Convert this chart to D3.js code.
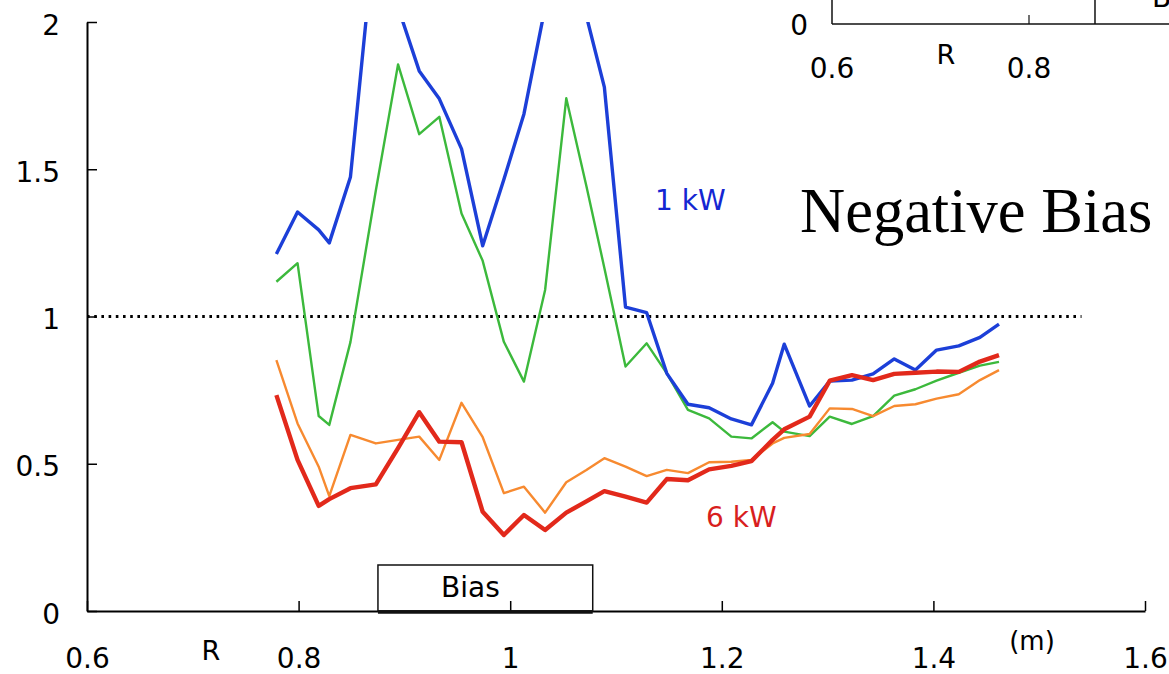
<!DOCTYPE html>
<html>
<head>
<meta charset="utf-8">
<script src="https://cdn.jsdelivr.net/npm/d3@7"></script>
<style>
  html, body { margin: 0; padding: 0; background: #fff; }
  svg { display: block; font-family: "DejaVu Sans", Verdana, sans-serif; }
</style>
</head>
<body>
<div id="chart"></div>
<script>
// radius positions (m), shared by all four profiles
var radius = [0.779, 0.799, 0.819, 0.829, 0.849, 0.873, 0.894, 0.914, 0.933, 0.954,
              0.974, 0.994, 1.013, 1.033, 1.053, 1.072, 1.089, 1.109, 1.129, 1.148,
              1.168, 1.188, 1.209, 1.228, 1.248, 1.259, 1.283, 1.302, 1.323, 1.343,
              1.363, 1.383, 1.403, 1.424, 1.444, 1.462];

// 1 kW (blue)
var blue1kW = [1.212, 1.355, 1.294, 1.250, 1.474, 2.34, 2.05, 1.834, 1.739, 1.569,
               1.240, 1.465, 1.688, 2.05, 2.30, 2.02, 1.779, 1.032, 1.013, 0.807,
               0.702, 0.690, 0.652, 0.632, 0.773, 0.906, 0.696, 0.781, 0.784, 0.805,
               0.856, 0.818, 0.886, 0.900, 0.929, 0.974];
// green
var greenSeries = [1.118, 1.181, 0.662, 0.632, 0.913, 1.428, 1.856, 1.619, 1.678, 1.350,
                   1.189, 0.914, 0.779, 1.090, 1.741, 1.443, 1.165, 0.830, 0.909, 0.807,
                   0.683, 0.654, 0.592, 0.586, 0.641, 0.609, 0.594, 0.660, 0.635, 0.662,
                   0.731, 0.753, 0.782, 0.809, 0.833, 0.846];
// orange
var orangeSeries = [0.852, 0.637, 0.490, 0.390, 0.598, 0.569, 0.581, 0.592, 0.513, 0.707,
                    0.590, 0.400, 0.422, 0.334, 0.437, 0.479, 0.519, 0.490, 0.458, 0.479,
                    0.468, 0.505, 0.507, 0.513, 0.569, 0.588, 0.601, 0.688, 0.686, 0.662,
                    0.696, 0.702, 0.721, 0.736, 0.784, 0.818];
// 6 kW (red)
var red6kW = [0.733, 0.513, 0.357, 0.380, 0.417, 0.430, 0.553, 0.675, 0.575, 0.573,
              0.337, 0.258, 0.326, 0.275, 0.334, 0.372, 0.407, 0.388, 0.368, 0.448,
              0.444, 0.481, 0.493, 0.509, 0.581, 0.617, 0.660, 0.782, 0.801, 0.784,
              0.805, 0.809, 0.813, 0.812, 0.847, 0.869];

var xTicks = [0.6, 0.8, 1.0, 1.2, 1.4, 1.6];
var xTickLabels = ["0.6", "0.8", "1", "1.2", "1.4", "1.6"];
var yTicks = [0, 0.5, 1, 1.5, 2];
var yTickLabels = ["0", "0.5", "1", "1.5", "2"];
var biasRange = [0.875, 1.078];
var refLevel = 1;
var refEnd = 1.54;

// the cut-off corner of another plot (top right)
var insetTicks = [0.6, 0.8];
var insetTickLabels = ["0.6", "0.8"];
var insetBiasStart = 0.867;

var width = 1169, height = 674;

var svg = d3.select("#chart").append("svg")
    .attr("width", width)
    .attr("height", height);

var x = d3.scaleLinear().domain([0.6, 1.6]).range([87, 1145]);
var y = d3.scaleLinear().domain([0, 2]).range([611, 22]);

svg.append("clipPath").attr("id", "plotclip")
  .append("rect")
    .attr("x", x(0.6)).attr("y", y(2))
    .attr("width", x(1.6) - x(0.6)).attr("height", y(0) - y(2) + 5);

// axes
var xAxis = d3.axisBottom(x)
    .tickValues(xTicks)
    .tickFormat(function(d, i) { return xTickLabels[i]; })
    .tickSizeInner(-10).tickSizeOuter(0);

var gx = svg.append("g")
    .attr("transform", "translate(0," + y(0) + ")")
    .call(xAxis);
gx.select(".domain").attr("stroke-width", 2);
gx.selectAll(".tick line").attr("stroke-width", 1.5);
gx.selectAll(".tick text")
    .attr("y", 57).attr("dy", null)
    .attr("font-size", 28)
    .attr("font-family", "DejaVu Sans, sans-serif")
    .attr("fill", "#000");

var yAxis = d3.axisLeft(y)
    .tickValues(yTicks)
    .tickFormat(function(d, i) { return yTickLabels[i]; })
    .tickSizeInner(-10).tickSizeOuter(0).tickPadding(27);

var gy = svg.append("g")
    .attr("transform", "translate(" + x(0.6) + ",0)")
    .call(yAxis);
gy.select(".domain").attr("stroke-width", 2);
gy.selectAll(".tick line").attr("stroke-width", 1.5);
gy.selectAll(".tick text")
    .attr("dy", null).attr("y", 12)
    .attr("font-size", 28)
    .attr("font-family", "DejaVu Sans, sans-serif")
    .attr("fill", "#000");

svg.append("text")
    .attr("x", 211).attr("y", 660)
    .attr("text-anchor", "middle")
    .attr("font-size", 27)
    .text("R");

svg.append("text")
    .attr("x", 1032).attr("y", 650)
    .attr("text-anchor", "middle")
    .attr("font-size", 26)
    .text("(m)");

// Bias box
svg.append("rect")
    .attr("x", x(biasRange[0])).attr("y", 565)
    .attr("width", x(biasRange[1]) - x(biasRange[0]))
    .attr("height", y(0) - 565)
    .attr("fill", "none").attr("stroke", "#111").attr("stroke-width", 1.5);
svg.append("line")
    .attr("x1", x(biasRange[0])).attr("x2", x(biasRange[1]))
    .attr("y1", y(0) + 1).attr("y2", y(0) + 1)
    .attr("stroke", "#111").attr("stroke-width", 3.5);
svg.append("text")
    .attr("x", 441).attr("y", 597)
    .attr("font-size", 28)
    .text("Bias");

// dotted reference line at 1
svg.append("line")
    .attr("x1", x(0.6)).attr("x2", x(refEnd))
    .attr("y1", y(refLevel)).attr("y2", y(refLevel))
    .attr("stroke", "#000").attr("stroke-width", 3)
    .attr("stroke-dasharray", "2.6,4.6");

// profiles
var line = d3.line()
    .x(function(d) { return x(d[0]); })
    .y(function(d) { return y(d[1]); });

var series = [
  { values: greenSeries, color: "#3cb93c", w: 2.4 },
  { values: orangeSeries, color: "#f78a30", w: 2.4 },
  { values: blue1kW, color: "#1c3fd8", w: 3.4 },
  { values: red6kW, color: "#e2291b", w: 4.4 }
];

svg.append("g").attr("clip-path", "url(#plotclip)")
  .selectAll("path").data(series)
  .enter().append("path")
    .attr("d", function(s) { return line(d3.zip(radius, s.values)); })
    .attr("fill", "none")
    .attr("stroke", function(s) { return s.color; })
    .attr("stroke-width", function(s) { return s.w; })
    .attr("stroke-linejoin", "round");

// labels
svg.append("text")
    .attr("x", 655).attr("y", 210)
    .attr("font-size", 28)
    .attr("fill", "#1426d2")
    .text("1 kW");
svg.append("text")
    .attr("x", 706).attr("y", 527)
    .attr("font-size", 28)
    .attr("fill", "#d81e1e")
    .text("6 kW");
svg.append("text")
    .attr("x", 800).attr("y", 232)
    .attr("font-size", 62.5)
    .attr("font-family", "Liberation Serif, Times New Roman, serif")
    .text("Negative Bias");

// inset corner
var xi = d3.scaleLinear().domain([0.6, 0.8]).range([832, 1029]);
var inset = svg.append("g");
inset.append("line")
    .attr("x1", xi(0.6)).attr("x2", width)
    .attr("y1", 24).attr("y2", 24)
    .attr("stroke", "#111").attr("stroke-width", 1.5);
inset.append("line")
    .attr("x1", xi(0.6)).attr("x2", xi(0.6))
    .attr("y1", 0).attr("y2", 24)
    .attr("stroke", "#111").attr("stroke-width", 1.5);
inset.append("line")
    .attr("x1", xi(0.8)).attr("x2", xi(0.8))
    .attr("y1", 15).attr("y2", 24)
    .attr("stroke", "#111").attr("stroke-width", 1.2);
inset.append("line")
    .attr("x1", xi(insetBiasStart)).attr("x2", xi(insetBiasStart))
    .attr("y1", 0).attr("y2", 24)
    .attr("stroke", "#111").attr("stroke-width", 1.5);
inset.selectAll("text.itick").data(insetTicks)
  .enter().append("text")
    .attr("class", "itick")
    .attr("x", function(d) { return xi(d); })
    .attr("y", 78)
    .attr("text-anchor", "middle")
    .attr("font-size", 28)
    .text(function(d, i) { return insetTickLabels[i]; });
inset.append("text")
    .attr("x", 808).attr("y", 35)
    .attr("text-anchor", "end")
    .attr("font-size", 28)
    .text("0");
inset.append("text")
    .attr("x", 946).attr("y", 64)
    .attr("text-anchor", "middle")
    .attr("font-size", 27)
    .text("R");
inset.append("text")
    .attr("x", 1152).attr("y", 7)
    .attr("font-size", 28)
    .text("Bias");
</script>
</body>
</html>
